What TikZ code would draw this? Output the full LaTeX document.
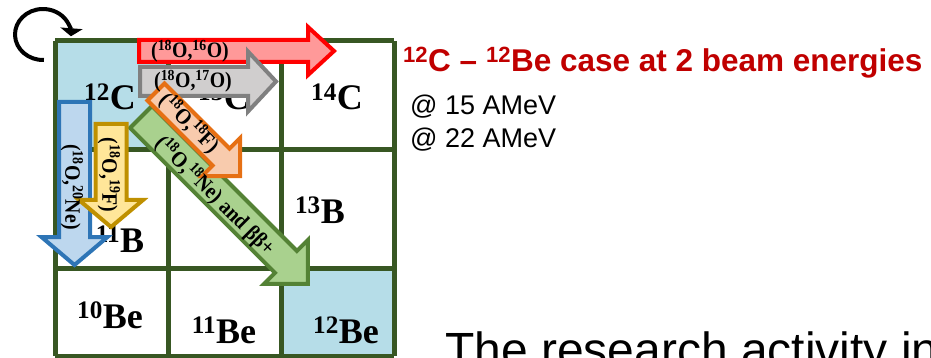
\documentclass[tikz,border=0pt]{standalone}
\usepackage{fontspec}
\setmainfont{Liberation Serif}
\setsansfont{Liberation Sans}
\newfontfamily\labfont{Liberation Serif}[FakeStretch=0.9]
\usetikzlibrary{arrows.meta}
\definecolor{gridgreen}{RGB}{56,87,35}
\definecolor{cellblue}{RGB}{182,221,232}
\definecolor{titlered}{RGB}{192,0,0}
\definecolor{redfill}{RGB}{255,153,153}
\definecolor{redline}{RGB}{255,0,0}
\definecolor{grayfill}{RGB}{208,206,206}
\definecolor{grayline}{RGB}{128,128,128}
\definecolor{orangefill}{RGB}{248,203,173}
\definecolor{orangeline}{RGB}{230,112,20}
\definecolor{greenfill}{RGB}{169,209,142}
\definecolor{greenline}{RGB}{84,130,53}
\definecolor{bluefill}{RGB}{189,215,238}
\definecolor{blueline}{RGB}{46,117,182}
\definecolor{yellowfill}{RGB}{255,230,153}
\definecolor{yellowline}{RGB}{191,144,0}
% #1 start, #2 angle, #3 length, #4 body half width, #5 head half width, #6 head length, #7 style
\newcommand\blockarrow[7]{%
  \begin{scope}[shift={#1},rotate=#2]
    \draw[#7] (0,-#4) -- ({#3-#6},-#4) -- ({#3-#6},-#5) -- (#3,0)
      -- ({#3-#6},#5) -- ({#3-#6},#4) -- (0,#4) -- cycle;
  \end{scope}}
\tikzset{
  gridline/.style={draw=gridgreen,line width=5pt},
  iso/.style={font=\bfseries\fontsize{36}{40}\selectfont,anchor=base,inner sep=0pt},
  rlabel/.style={font=\labfont\bfseries\fontsize{22}{24}\selectfont,inner sep=0pt},
  redarrow/.style={fill=redfill,draw=redline,line width=4pt},
  grayarrow/.style={fill=grayfill,draw=grayline,line width=4pt},
  orangearrow/.style={fill=orangefill,draw=orangeline,line width=4pt},
  greenarrow/.style={fill=greenfill,draw=greenline,line width=4pt},
  bluearrow/.style={fill=bluefill,draw=blueline,line width=4pt},
  yellowarrow/.style={fill=yellowfill,draw=yellowline,line width=4pt},
  curl/.style={line width=4pt,-{Triangle[width=22pt,length=8pt]}},
  sidetext/.style={font=\sffamily\fontsize{27}{30}\selectfont,anchor=base west,inner sep=0pt}
}
\begin{document}
\begin{tikzpicture}[x=1pt,y=-1pt]
\useasboundingbox (0,0) rectangle (931,358);
% cells
\fill[cellblue] (55,41) rectangle (168,150);
\fill[cellblue] (281,268) rectangle (394,356);
% grid
\foreach \gx in {55,168,281,394} \draw[gridline] (\gx,41) -- (\gx,356);
\foreach \gy in {41,150,268,356} \draw[gridline] (55,\gy) -- (394,\gy);
% nuclide labels
\node[iso] (c12) at (110,110) {\textsuperscript{12}C};
\node[iso] (c13) at (224,110) {\textsuperscript{13}C};
\node[iso] (c14) at (337,110) {\textsuperscript{14}C};
\node[iso] (b11) at (120,252) {\textsuperscript{11}B};
\node[iso] (b13) at (320,223) {\textsuperscript{13}B};
\node[iso] (be10) at (110,328) {\textsuperscript{10}Be};
\node[iso] (be11) at (224,343) {\textsuperscript{11}Be};
\node[iso] (be12) at (346,343) {\textsuperscript{12}Be};
% curled arrow
\draw[curl] (43,34.5) ++(88:28 and 25.5) arc[start angle=88,end angle=364,x radius=28,y radius=25.5];
% block arrows
\blockarrow{(139,51)}{0}{195}{11}{24}{26}{redarrow}
\blockarrow{(140,81.5)}{0}{136}{14.5}{30}{28}{grayarrow}
\blockarrow{(141,117)}{-45}{236}{15.5}{31}{31}{greenarrow}
\blockarrow{(156,92)}{-45}{119}{12}{27}{27}{orangearrow}
\blockarrow{(74.5,102)}{-90}{163}{15.5}{33}{28}{bluearrow}
\blockarrow{(111,124)}{-90}{103}{15.5}{32}{27}{yellowarrow}
% arrow labels
\node[rlabel] (l16) at (190,51) {(\textsuperscript{18}O,\textsuperscript{16}O)};
\node[rlabel] (l17) at (193,81) {(\textsuperscript{18}O,\textsuperscript{17}O)};
\node[rlabel,rotate=-45] (l18f) at (189,123) {(\textsuperscript{18}O,\textsuperscript{18}F)};
\node[rlabel,rotate=-45] (l18ne) at (215,196) {(\textsuperscript{18}O,\textsuperscript{18}Ne) and ββ+};
\node[rlabel,rotate=-90] (l20) at (72,187) {(\textsuperscript{18}O,\textsuperscript{20}Ne)};
\node[rlabel,rotate=-90] (l19) at (109,175) {(\textsuperscript{18}O,\textsuperscript{19}F)};
% side texts
\node[sidetext,font=\sffamily\bfseries\fontsize{31.5}{34}\selectfont,text=titlered] (title) at (403,72)
  {\textsuperscript{12}C – \textsuperscript{12}Be case at 2 beam energies};
\node[sidetext] (e15) at (410,115) {@ 15 AMeV};
\node[sidetext] (e22) at (410,148) {@ 22 AMeV};
\node[sidetext,font=\sffamily\fontsize{48}{52}\selectfont] (research) at (445,366) {The research activity in};
\end{tikzpicture}
\end{document}
